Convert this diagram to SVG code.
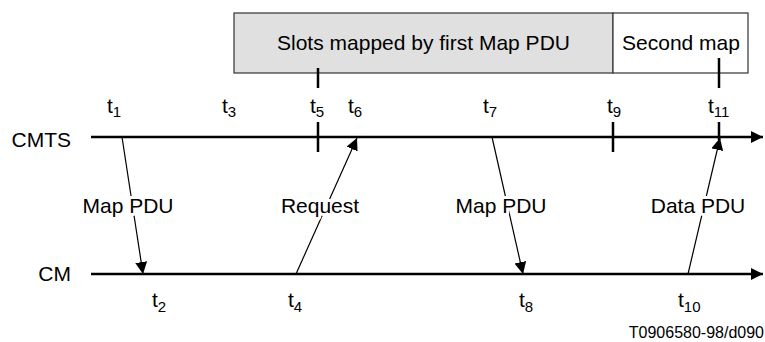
<svg xmlns="http://www.w3.org/2000/svg" width="765" height="342" viewBox="0 0 765 342">
<style>
text{font-family:"Liberation Sans",Arial,sans-serif;fill:#000}
.lbl{font-size:21px}
.sub{font-size:15px}
.msg{font-size:21px;text-anchor:middle;stroke:#fff;stroke-width:6px;paint-order:stroke;stroke-linejoin:round}
.axis{stroke:#000;stroke-width:2.5;fill:none}
.tick{stroke:#000;stroke-width:2.5;fill:none}
.arr{stroke:#000;stroke-width:1.2;fill:none}
.box{stroke:#333;stroke-width:1.2}
</style>
<defs>
<marker id="ah" markerUnits="userSpaceOnUse" markerWidth="14" markerHeight="14" refX="12" refY="6" orient="auto">
<path d="M0,0 L12,6 L0,12 z" fill="#000"/>
</marker>
<marker id="ax" markerUnits="userSpaceOnUse" markerWidth="14" markerHeight="14" refX="12" refY="6" orient="auto">
<path d="M0,0 L12,6 L0,12 z" fill="#000"/>
</marker>
</defs>
<g id="map-box">
<rect class="box" x="234" y="13" width="379" height="60" fill="#e0e0e0"/>
<text class="lbl" x="423.5" y="50" text-anchor="middle">Slots mapped by first Map PDU</text>
</g>
<g id="second-map-box">
<rect class="box" x="613" y="13" width="135" height="60" fill="#fff"/>
<text class="lbl" x="681" y="50" text-anchor="middle">Second map</text>
</g>
<g id="cmts">
<text class="lbl" x="71" y="147" text-anchor="end">CMTS</text>
<line class="axis" x1="91" y1="137" x2="763" y2="137" marker-end="url(#ax)"/>
</g>
<g id="cm">
<text class="lbl" x="71" y="281" text-anchor="end">CM</text>
<line class="axis" x1="91" y1="274" x2="763" y2="274" marker-end="url(#ax)"/>
</g>
<g id="ticks">
<line class="tick" x1="318" y1="68" x2="318" y2="88"/>
<line class="tick" x1="318" y1="122" x2="318" y2="152"/>
<line class="tick" x1="613" y1="122" x2="613" y2="152"/>
<line class="tick" x1="719" y1="58" x2="719" y2="88"/>
<line class="tick" x1="719" y1="122" x2="719" y2="140"/>
</g>
<g id="time-labels">
<text class="lbl" x="107" y="113">t<tspan class="sub" dy="4">1</tspan></text>
<text class="lbl" x="222" y="113">t<tspan class="sub" dy="4">3</tspan></text>
<text class="lbl" x="310" y="113">t<tspan class="sub" dy="4">5</tspan></text>
<text class="lbl" x="348" y="113">t<tspan class="sub" dy="4">6</tspan></text>
<text class="lbl" x="483" y="113">t<tspan class="sub" dy="4">7</tspan></text>
<text class="lbl" x="607" y="113">t<tspan class="sub" dy="4">9</tspan></text>
<text class="lbl" x="708" y="113">t<tspan class="sub" dy="4">11</tspan></text>
<text class="lbl" x="152" y="307">t<tspan class="sub" dy="5">2</tspan></text>
<text class="lbl" x="288" y="307">t<tspan class="sub" dy="5">4</tspan></text>
<text class="lbl" x="519" y="307">t<tspan class="sub" dy="5">8</tspan></text>
<text class="lbl" x="678" y="307">t<tspan class="sub" dy="5">10</tspan></text>
</g>
<g id="connectors">
<line class="arr" x1="122" y1="137" x2="143" y2="274" marker-end="url(#ah)"/>
<line class="arr" x1="296" y1="274" x2="357" y2="138" marker-end="url(#ah)"/>
<line class="arr" x1="492" y1="137" x2="523" y2="274" marker-end="url(#ah)"/>
<line class="arr" x1="688" y1="274" x2="720" y2="138" marker-end="url(#ah)"/>
</g>
<g id="message-labels">
<text class="msg" x="128" y="213">Map PDU</text>
<text class="msg" x="320" y="213">Request</text>
<text class="msg" x="501" y="213">Map PDU</text>
<text class="msg" x="698" y="213">Data PDU</text>
</g>
<text x="764" y="338" font-size="16" text-anchor="end">T0906580-98/d090</text>
</svg>
